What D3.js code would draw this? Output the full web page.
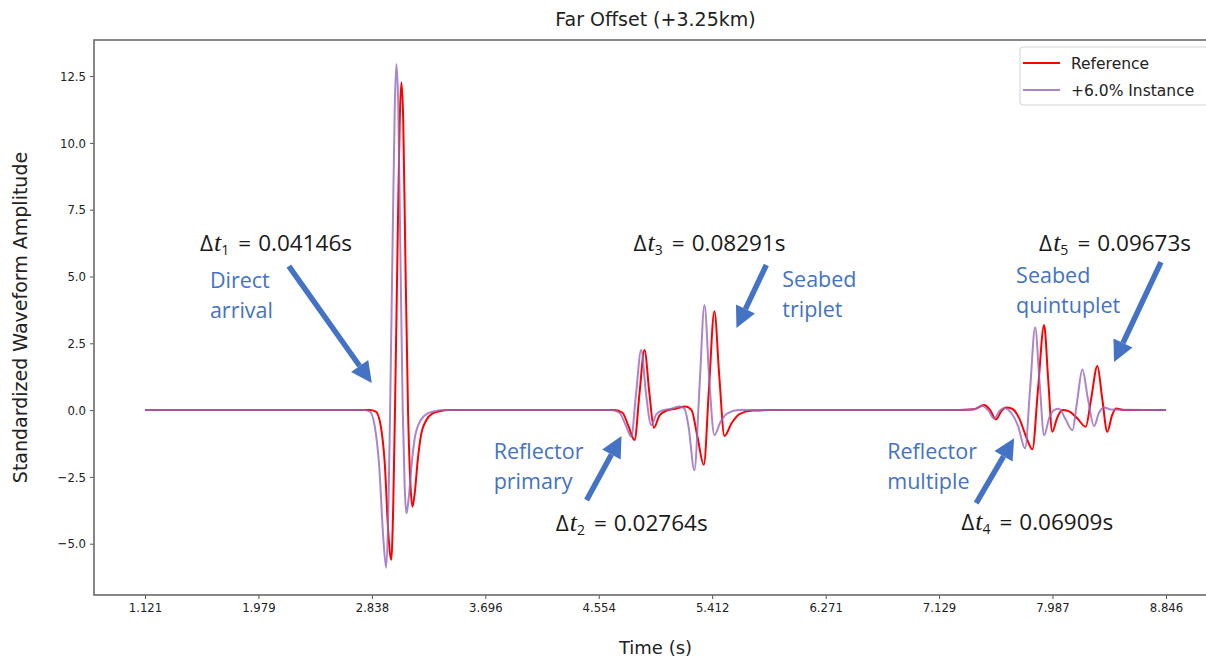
<!DOCTYPE html>
<html><head><meta charset="utf-8">
<script src="https://cdn.jsdelivr.net/npm/d3@7"></script>
<style>
body{margin:0;background:#fff;}
svg{display:block;}
</style></head><body>
<svg id="chart" width="1206" height="661"></svg>
<script>
// ---- data (time in s, standardized amplitude) ----
const refTime = [1.121, 2.822, 2.867, 2.905, 2.935, 2.962, 2.984, 2.999, 3.014, 3.033, 3.048, 3.061, 3.075, 3.090, 3.111, 3.129, 3.144, 3.162, 3.184, 3.207, 3.250, 3.298, 3.351, 3.426,
  4.674, 4.734, 4.779, 4.825, 4.862, 4.900, 4.938, 4.971, 5.014, 5.067, 5.135, 5.210, 5.256, 5.301, 5.349, 5.388, 5.429, 5.467, 5.505, 5.558, 5.618, 5.717, 5.845,
  7.281, 7.395, 7.470, 7.516, 7.559, 7.599, 7.634, 7.682, 7.735, 7.788, 7.835, 7.878, 7.924, 7.954, 7.986, 8.022, 8.062, 8.113, 8.173, 8.239, 8.279, 8.327, 8.362, 8.402, 8.438, 8.468, 8.528, 8.846];
const refAmp = [0, 0, -0.06, -0.6, -2.0, -4.6, -5.6, -3.6, 0.5, 6.5, 10.8, 12.27, 10.8, 6.0, 0, -2.74, -3.62, -3.1, -1.9, -1.0, -0.37, -0.12, -0.04, 0,
  0, -0.1, -0.6, -1.12, 0.6, 2.25, 0.6, -0.66, -0.2, -0.02, 0.05, 0.13, 0.0, -1.0, -2.05, 0.8, 3.7, 1.2, -0.97, -0.5, -0.15, -0.02, 0,
  0, 0.03, 0.19, 0.0, -0.35, -0.05, 0.1, 0.05, -0.3, -1.0, -1.47, 0.8, 3.18, 1.2, -0.81, -0.3, 0.0, -0.05, -0.3, -0.62, 0.4, 1.65, 0.5, -0.81, -0.2, 0.06, 0.0, 0];

const instTime = [1.121, 2.776, 2.822, 2.859, 2.893, 2.924, 2.946, 2.962, 2.977, 2.996, 3.011, 3.023, 3.037, 3.052, 3.071, 3.086, 3.099, 3.116, 3.139, 3.162, 3.207, 3.260, 3.313, 3.389,
  4.651, 4.711, 4.757, 4.800, 4.836, 4.875, 4.912, 4.951, 4.991, 5.044, 5.104, 5.165, 5.203, 5.233, 5.278, 5.316, 5.354, 5.392, 5.429, 5.475, 5.528, 5.618,
  7.281, 7.395, 7.457, 7.500, 7.546, 7.584, 7.621, 7.674, 7.727, 7.780, 7.818, 7.856, 7.890, 7.924, 7.962, 7.999, 8.037, 8.082, 8.138, 8.173, 8.213, 8.256, 8.302, 8.339, 8.377, 8.430, 8.846];
const instAmp = [0, 0, -0.06, -0.6, -2.1, -4.8, -5.9, -3.8, 0.5, 6.8, 11.4, 12.95, 11.4, 6.3, 0, -2.9, -3.87, -3.3, -2.0, -1.05, -0.38, -0.12, -0.04, 0,
  0, -0.1, -0.55, -1.0, 0.6, 2.25, 0.6, -0.56, -0.15, 0, 0.05, 0.13, 0.05, -0.6, -2.25, 0.8, 3.93, 1.0, -0.94, -0.45, -0.12, 0,
  0, 0.03, 0.15, 0.0, -0.31, -0.05, 0.08, -0.1, -0.6, -1.43, 0.8, 3.1, 1.0, -0.94, -0.3, 0.0, 0.05, -0.3, -0.75, 0.3, 1.52, 0.4, -0.6, -0.1, 0.1, 0.02, 0];

const seriesNames = ["Reference", "+6.0% Instance"];
const seriesColors = ["#ff0000", "#9467bd"];

const xTickValues = [1.121, 1.979, 2.838, 3.696, 4.554, 5.412, 6.271, 7.129, 7.987, 8.846];
const xTickLabels = ["1.121", "1.979", "2.838", "3.696", "4.554", "5.412", "6.271", "7.129", "7.987", "8.846"];
const yTickValues = [-5, -2.5, 0, 2.5, 5, 7.5, 10, 12.5];

// annotations (anchored in data units)
const calloutLines = [["Direct", "arrival"], ["Reflector", "primary"], ["Seabed", "triplet"], ["Reflector", "multiple"], ["Seabed", "quintuplet"]];
const calloutAt = [[1.612, 4.57], [3.759, -1.83], [5.943, 4.60], [6.737, -1.83], [7.712, 4.75]];
const deltaIndex = ["1", "2", "3", "4", "5"];
const deltaValue = ["0.04146", "0.02764", "0.08291", "0.06909", "0.09673"];
const deltaAt = [[1.537, 5.95], [4.228, -4.53], [4.817, 5.95], [7.296, -4.49], [7.886, 5.95]];
const arrowFrom = [[2.209, 5.39], [4.462, -3.37], [5.822, 5.43], [7.410, -3.48], [8.808, 5.54]];
const arrowTo = [[2.837, 1.01], [4.726, -0.97], [5.596, 3.07], [7.697, -1.05], [8.453, 1.80]];

// ---- drawing ----
const svg = d3.select("#chart");
const W = 1206, H = 661;
const x = d3.scaleLinear().domain([0.735, 9.232]).range([94, 1217]);
const y = d3.scaleLinear().domain([-6.92, 13.85]).range([595, 40]);

svg.append("rect").attr("width", W).attr("height", H).attr("fill", "#fff");

const tickFont = "DejaVu Sans";

// x axis
const gx = svg.append("g").attr("transform", `translate(0,${y.range()[0]})`)
  .call(d3.axisBottom(x).tickValues(xTickValues).tickFormat((d, i) => xTickLabels[i]).tickSize(4).tickPadding(4));
gx.select(".domain").remove();
gx.selectAll(".tick line").attr("stroke", "#555");
gx.selectAll(".tick text").attr("font-family", tickFont).attr("font-size", 13).attr("fill", "#222")
  .attr("font-stretch", "condensed");

// y axis
const gy = svg.append("g").attr("transform", `translate(${x.range()[0]},0)`)
  .call(d3.axisLeft(y).tickValues(yTickValues).tickFormat(d3.format(".1f")).tickSize(4).tickPadding(4));
gy.select(".domain").remove();
gy.selectAll(".tick line").attr("stroke", "#555");
gy.selectAll(".tick text").attr("font-family", tickFont).attr("font-size", 13).attr("fill", "#222")
  .attr("font-stretch", "condensed");

// lines
const line = d3.line().x(d => x(d[0])).y(d => y(d[1])).curve(d3.curveMonotoneX);
const refData = refTime.map((t, i) => [t, refAmp[i]]);
const instData = instTime.map((t, i) => [t, instAmp[i]]);
svg.append("path").datum(refData).attr("d", line).attr("fill", "none")
  .attr("stroke", seriesColors[0]).attr("stroke-width", 2).attr("stroke-linejoin", "round");
svg.append("path").datum(instData).attr("d", line).attr("fill", "none")
  .attr("stroke", seriesColors[1]).attr("stroke-opacity", 0.8).attr("stroke-width", 2).attr("stroke-linejoin", "round");

// frame
svg.append("rect").attr("x", x.range()[0]).attr("y", y.range()[1])
  .attr("width", x.range()[1] - x.range()[0]).attr("height", y.range()[0] - y.range()[1])
  .attr("fill", "none").attr("stroke", "#6a6a6a").attr("stroke-width", 1.6);

// title and axis labels
svg.append("text").attr("x", (x.range()[0] + x.range()[1]) / 2).attr("y", 26)
  .attr("text-anchor", "middle").attr("font-family", "DejaVu Sans").attr("font-size", 19)
  .attr("fill", "#222").text("Far Offset (+3.25km)");
svg.append("text").attr("x", (x.range()[0] + x.range()[1]) / 2).attr("y", 654)
  .attr("text-anchor", "middle").attr("font-family", "DejaVu Sans").attr("font-size", 18)
  .attr("fill", "#222").text("Time (s)");
svg.append("text").attr("transform", `translate(27,${(y.range()[0] + y.range()[1]) / 2}) rotate(-90)`)
  .attr("text-anchor", "middle").attr("font-family", "DejaVu Sans").attr("font-size", 19)
  .attr("fill", "#222").text("Standardized Waveform Amplitude");

// legend
const lg = svg.append("g");
lg.append("rect").attr("x", 1020).attr("y", 47).attr("width", 200).attr("height", 58).attr("rx", 3)
  .attr("fill", "#fff").attr("fill-opacity", 0.85).attr("stroke", "#d3d3d3");
seriesNames.forEach((name, i) => {
  const yy = 63 + i * 27;
  lg.append("line").attr("x1", 1023).attr("x2", 1060).attr("y1", yy).attr("y2", yy)
    .attr("stroke", seriesColors[i]).attr("stroke-width", 2).attr("stroke-opacity", i ? 0.8 : 1);
  lg.append("text").attr("x", 1071).attr("y", yy + 5.5).attr("font-family", "DejaVu Sans")
    .attr("font-size", 15.5).attr("fill", "#222").text(name);
});

// annotations
const blue = "#4472C4";
const ann = svg.append("g");
calloutLines.forEach((lines, i) => {
  const t = ann.append("text").attr("x", x(calloutAt[i][0])).attr("y", y(calloutAt[i][1]))
    .attr("font-family", "Open Sans").attr("font-size", 21.5).attr("fill", blue);
  lines.forEach((s, j) => t.append("tspan").attr("x", x(calloutAt[i][0])).attr("dy", j ? 30 : 0).text(s));
});
deltaIndex.forEach((k, i) => {
  const t = ann.append("text").attr("x", x(deltaAt[i][0])).attr("y", y(deltaAt[i][1]))
    .attr("font-family", "Open Sans").attr("font-size", 22.5).attr("fill", "#1a1a1a");
  t.append("tspan").text("Δ");
  t.append("tspan").attr("font-style", "italic").attr("font-family", "Liberation Serif").attr("font-size", 26).attr("dx", 1).text("t");
  t.append("tspan").attr("font-size", 14).attr("dy", 4).text(k);
  t.append("tspan").attr("dy", -4).attr("dx", 9).text("=");
  t.append("tspan").attr("dx", 7).text(deltaValue[i] + "s");
});
arrowFrom.forEach((p, i) => {
  const x1 = x(p[0]), y1 = y(p[1]), x2 = x(arrowTo[i][0]), y2 = y(arrowTo[i][1]);
  const ang = Math.atan2(y2 - y1, x2 - x1);
  const hl = 21, hw = 10.5;
  const bx = x2 - hl * Math.cos(ang), by = y2 - hl * Math.sin(ang);
  ann.append("line").attr("x1", x1).attr("y1", y1).attr("x2", bx).attr("y2", by)
    .attr("stroke", blue).attr("stroke-width", 5.5);
  const px = -Math.sin(ang), py = Math.cos(ang);
  ann.append("polygon").attr("points", [[x2, y2], [bx + hw * px, by + hw * py], [bx - hw * px, by - hw * py]].map(q => q.join(",")).join(" "))
    .attr("fill", blue);
});
</script>
</body></html>
